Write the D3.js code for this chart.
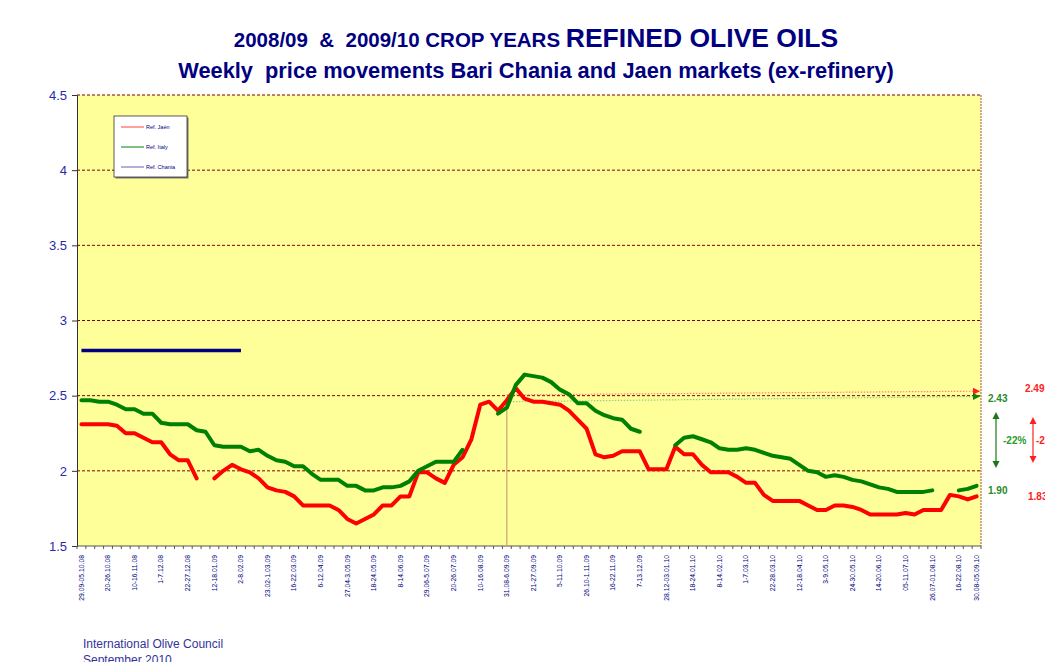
<!DOCTYPE html>
<html>
<head>
<meta charset="utf-8">
<script src="https://cdn.jsdelivr.net/npm/d3@7"></script>
<style>
  body { margin: 0; background: #fff; }
  text { font-family: "Liberation Sans", Arial, sans-serif; white-space: pre; }
</style>
</head>
<body>
<div id="chart"></div>
<script>
// weekly prices, 102 weeks from 29.09-05.10.08 to 30.08-05.09.10 (null = no quote)
var jaen = [2.31, 2.31, 2.31, 2.31, 2.30, 2.25, 2.25, 2.22, 2.19, 2.19,
  2.11, 2.07, 2.07, 1.95, null, 1.95, 2.00, 2.04, 2.01, 1.99,
  1.95, 1.89, 1.87, 1.86, 1.83, 1.77, 1.77, 1.77, 1.77, 1.74,
  1.68, 1.65, 1.68, 1.71, 1.77, 1.77, 1.83, 1.83, 1.99, 1.99,
  1.95, 1.92, 2.04, 2.09, 2.21, 2.44, 2.46, 2.40, 2.47, 2.55,
  2.48, 2.46, 2.46, 2.45, 2.44, 2.40, 2.34, 2.28, 2.11, 2.09,
  2.10, 2.13, 2.13, 2.13, 2.01, 2.01, 2.01, 2.16, 2.11, 2.11,
  2.04, 1.99, 1.99, 1.99, 1.96, 1.92, 1.92, 1.84, 1.80, 1.80,
  1.80, 1.80, 1.77, 1.74, 1.74, 1.77, 1.77, 1.76, 1.74, 1.71,
  1.71, 1.71, 1.71, 1.72, 1.71, 1.74, 1.74, 1.74, 1.84, 1.83,
  1.81, 1.83];

var italy = [2.47, 2.47, 2.46, 2.46, 2.44, 2.41, 2.41, 2.38, 2.38, 2.32,
  2.31, 2.31, 2.31, 2.27, 2.26, 2.17, 2.16, 2.16, 2.16, 2.13,
  2.14, 2.10, 2.07, 2.06, 2.03, 2.03, 1.98, 1.94, 1.94, 1.94,
  1.90, 1.90, 1.87, 1.87, 1.89, 1.89, 1.90, 1.93, 2.00, 2.03,
  2.06, 2.06, 2.06, 2.14, null, null, null, 2.38, 2.42, 2.57,
  2.64, 2.63, 2.62, 2.59, 2.54, 2.51, 2.45, 2.45, 2.40, 2.37,
  2.35, 2.34, 2.28, 2.26, null, null, null, 2.17, 2.22, 2.23,
  2.21, 2.19, 2.15, 2.14, 2.14, 2.15, 2.14, 2.12, 2.10, 2.09,
  2.08, 2.04, 2.00, 1.99, 1.96, 1.97, 1.96, 1.94, 1.93, 1.91,
  1.89, 1.88, 1.86, 1.86, 1.86, 1.86, 1.87, null, null, 1.87,
  1.88, 1.90];

var chania = [2.80, 2.80, 2.80, 2.80, 2.80, 2.80, 2.80, 2.80, 2.80, 2.80,
  2.80, 2.80, 2.80, 2.80, 2.80, 2.80, 2.80, 2.80, 2.80];

var tickWeeks = [0, 3, 6, 9, 12, 15, 18, 21, 24, 27, 30, 33, 36, 39, 42, 45, 48,
  51, 54, 57, 60, 63, 66, 69, 72, 75, 78, 81, 84, 87, 90, 93, 96, 99, 101];
var tickLabels = ["29.09-05.10.08", "20-26.10.08", "10-16.11.08", "1-7.12.08", "22-27.12.08",
  "12-18.01.09", "2-8.02.09", "23.02-1.03.09", "16-22.03.09", "6-12.04.09",
  "27.04-3.05.09", "18-24.05.09", "8-14.06.09", "29.06-5.07.09", "20-26.07.09",
  "10-16.08.09", "31.08-6.09.09", "21-27.09.09", "5-11.10.09", "26.10-1.11.09",
  "16-22.11.09", "7-13.12.09", "28.12-03.01.10", "18-24.01.10", "8-14.02.10",
  "1-7.03.10", "22-28.03.10", "12-18.04.10", "3-9.05.10", "24-30.05.10",
  "14-20.06.10", "05-11.07.10", "26.07-01.08.10", "16-22.08.10", "30.08-05.09.10"];

var yTicks = [1.5, 2, 2.5, 3, 3.5, 4, 4.5];

var W = 1045, H = 662;
var pLeft = 77, pRight = 981, pTop = 95, pBottom = 546;
var navy = "#000080";

var svg = d3.select("#chart").append("svg")
  .attr("width", W).attr("height", H);

var x = d3.scaleBand().domain(d3.range(jaen.length)).range([pLeft, pRight]);
var cx = function(i) { return x(i) + x.bandwidth() / 2; };
var y = d3.scaleLinear().domain([1.5, 4.5]).range([pBottom, pTop]);

// plot area
svg.append("rect")
  .attr("x", pLeft).attr("y", pTop)
  .attr("width", pRight - pLeft).attr("height", pBottom - pTop)
  .attr("fill", "#ffff99");

// gridlines
svg.selectAll("line.grid")
  .data(yTicks.slice(1))
  .enter().append("line")
  .attr("class", "grid")
  .attr("x1", pLeft).attr("x2", pRight)
  .attr("y1", d => y(d)).attr("y2", d => y(d))
  .attr("stroke", "#800000")
  .attr("stroke-width", 1)
  .attr("stroke-dasharray", "3,2");

// right border
svg.append("line")
  .attr("x1", pRight).attr("x2", pRight)
  .attr("y1", pTop).attr("y2", pBottom)
  .attr("stroke", "#a05050")
  .attr("stroke-dasharray", "2,1");

// y axis
var yAxis = svg.append("g")
  .attr("transform", "translate(" + pLeft + ",0)")
  .call(d3.axisLeft(y).tickValues(yTicks).tickSize(5).tickFormat(d3.format("")));
yAxis.select(".domain").attr("stroke", "#333");
yAxis.selectAll(".tick line").attr("stroke", "#333");
yAxis.selectAll(".tick text")
  .attr("fill", "#2a2aa8")
  .attr("font-family", "Liberation Sans, Arial, sans-serif")
  .attr("font-size", 13)
  .attr("x", -10);

// x axis
var xAxis = svg.append("g")
  .attr("transform", "translate(0," + pBottom + ")");
xAxis.append("line")
  .attr("x1", pLeft).attr("x2", pRight)
  .attr("stroke", "#555");
xAxis.selectAll("line.tk")
  .data(d3.range(jaen.length + 1))
  .enter().append("line")
  .attr("class", "tk")
  .attr("x1", d => pLeft + d * x.step()).attr("x2", d => pLeft + d * x.step())
  .attr("y1", 0).attr("y2", 3)
  .attr("stroke", "#555");
xAxis.selectAll("text")
  .data(tickWeeks)
  .enter().append("text")
  .attr("transform", d => "translate(" + (cx(d) + 2.3) + ",9) rotate(-90)")
  .attr("text-anchor", "end")
  .attr("font-size", 6.8)
  .attr("fill", navy)
  .text((d, i) => tickLabels[i]);

// crop year marker
svg.append("line")
  .attr("x1", cx(48)).attr("x2", cx(48))
  .attr("y1", y(2.44)).attr("y2", pBottom)
  .attr("stroke", "#c9a27a")
  .attr("stroke-width", 1.2);

// dotted reference arrows from start of 2009/10
var defs = svg.append("defs");
[["arR", "#ff2020"], ["arG", "#108010"]].forEach(function(a) {
  defs.append("marker")
    .attr("id", a[0]).attr("viewBox", "0 0 10 10")
    .attr("refX", 10).attr("refY", 5)
    .attr("markerWidth", 7).attr("markerHeight", 7)
    .attr("markerUnits", "userSpaceOnUse")
    .attr("orient", "auto")
    .append("path").attr("d", "M0,0L10,5L0,10z").attr("fill", a[1]);
});
svg.append("line")
  .attr("x1", cx(48)).attr("y1", y(2.505))
  .attr("x2", pRight - 1).attr("y2", y(2.53))
  .attr("stroke", "#ff8080").attr("stroke-width", 1.2)
  .attr("stroke-dasharray", "1.5,1.5")
  .attr("marker-end", "url(#arR)");
svg.append("line")
  .attr("x1", cx(48)).attr("y1", y(2.46))
  .attr("x2", pRight - 1).attr("y2", y(2.495))
  .attr("stroke", "#8fd08f").attr("stroke-width", 1.2)
  .attr("stroke-dasharray", "1.5,1.5")
  .attr("marker-end", "url(#arG)");

// series
var line = d3.line()
  .defined(d => d != null)
  .x((d, i) => cx(i))
  .y(d => y(d));

svg.append("path").datum(chania)
  .attr("d", line).attr("fill", "none")
  .attr("stroke", "#000080").attr("stroke-width", 3.5);
svg.append("path").datum(jaen)
  .attr("d", line).attr("fill", "none")
  .attr("stroke", "#ff0000").attr("stroke-width", 4)
  .attr("stroke-linejoin", "round").attr("stroke-linecap", "round");
svg.append("path").datum(italy)
  .attr("d", line).attr("fill", "none")
  .attr("stroke", "#008000").attr("stroke-width", 4)
  .attr("stroke-linejoin", "round").attr("stroke-linecap", "round");

// right-side annotations
function arrow2(xp, y1, y2, col) {
  var g = svg.append("g");
  g.append("line").attr("x1", xp).attr("x2", xp)
    .attr("y1", y1 + 4).attr("y2", y2 - 4)
    .attr("stroke", col).attr("stroke-width", 1.2);
  g.append("path").attr("d", "M" + (xp - 3.5) + "," + (y1 + 7) + "L" + xp + "," + y1 + "L" + (xp + 3.5) + "," + (y1 + 7) + "z").attr("fill", col);
  g.append("path").attr("d", "M" + (xp - 3.5) + "," + (y2 - 7) + "L" + xp + "," + y2 + "L" + (xp + 3.5) + "," + (y2 - 7) + "z").attr("fill", col);
}
arrow2(996, 412, 468, "#1a7a1a");
arrow2(1033, 417, 463, "#ff2020");

var notes = [
  {t: "2.43", x: 988, y: 402, c: "#2a8a2a"},
  {t: "-22%", x: 1003, y: 444, c: "#2a9a2a"},
  {t: "1.90", x: 988, y: 494, c: "#2a8a2a"},
  {t: "2.49", x: 1025, y: 392, c: "#ff2020"},
  {t: "-26%", x: 1036, y: 444, c: "#ff2020"},
  {t: "1.83", x: 1028, y: 500, c: "#ff2020"}
];
svg.selectAll("text.note")
  .data(notes)
  .enter().append("text")
  .attr("class", "note")
  .attr("x", d => d.x).attr("y", d => d.y)
  .attr("font-size", 10).attr("font-weight", "bold")
  .attr("fill", d => d.c)
  .text(d => d.t);

// legend
var lg = svg.append("g").attr("transform", "translate(114,116)");
lg.append("rect").attr("x", 1.5).attr("y", 1.5).attr("width", 73).attr("height", 61).attr("fill", "#777");
lg.append("rect").attr("width", 73).attr("height", 61)
  .attr("fill", "#fff").attr("stroke", "#333").attr("stroke-width", 0.8);
var items = [["Ref. Jaén", "#ff4040"], ["Ref. Italy", "#008000"], ["Ref. Chania", "#6060b0"]];
items.forEach(function(it, k) {
  var yy = 11 + k * 20;
  lg.append("line").attr("x1", 7).attr("x2", 30).attr("y1", yy).attr("y2", yy)
    .attr("stroke", it[1]).attr("stroke-width", 1);
  lg.append("text").attr("x", 32).attr("y", yy + 2)
    .attr("font-size", 5.5).attr("fill", navy).text(it[0]);
});

// titles
var t1 = svg.append("text")
  .attr("x", 536).attr("y", 47)
  .attr("text-anchor", "middle")
  .attr("font-weight", "bold")
  .attr("fill", navy);
t1.append("tspan").attr("font-size", 20.5).text("2008/09  &  2009/10 CROP YEARS ");
t1.append("tspan").attr("font-size", 26.5).text("REFINED OLIVE OILS");

svg.append("text")
  .attr("x", 536).attr("y", 78)
  .attr("text-anchor", "middle")
  .attr("font-weight", "bold")
  .attr("font-size", 21.8)
  .attr("fill", navy)
  .text("Weekly  price movements Bari Chania and Jaen markets (ex-refinery)");

// footer
svg.append("text").attr("x", 83).attr("y", 648)
  .attr("font-size", 12).attr("fill", "#333399")
  .text("International Olive Council");
svg.append("text").attr("x", 83).attr("y", 664)
  .attr("font-size", 12).attr("fill", "#333399")
  .text("September 2010");
</script>
</body>
</html>
